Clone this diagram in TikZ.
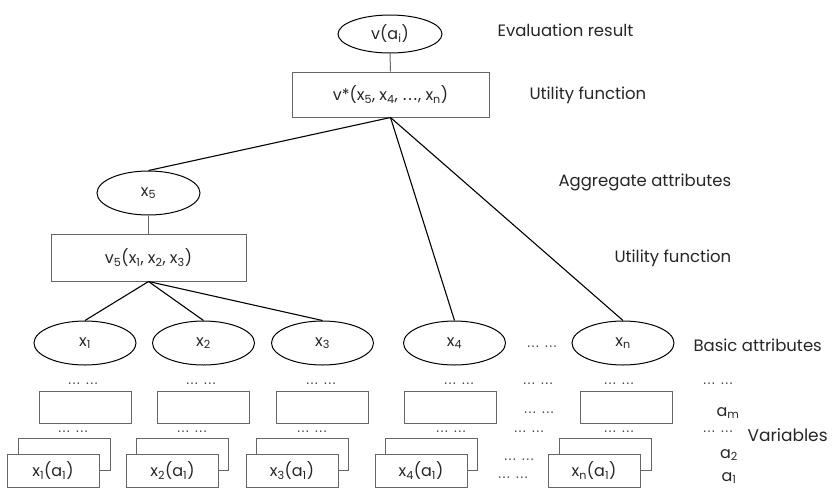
\documentclass[tikz,border=0pt]{standalone}
\usepackage{fontspec}
\setmainfont{Poppins}
\newfontfamily\dotsfamily{DejaVu Sans}
\usetikzlibrary{shapes.geometric}
\newcommand{\lsub}[1]{\textsubscript{#1}}
\newcommand{\onedots}{{\dotsfamily …}}
\newcommand{\twodots}{{\dotsfamily …\hspace{5pt}…}}

\begin{document}
\begin{tikzpicture}[x=1pt,y=-1pt,
  txt/.style={font=\fontsize{16}{18}\selectfont, text=black!85},
  oval/.style={ellipse, draw=black, line width=1pt, minimum width=102pt,
    minimum height=44pt, inner sep=0pt, txt},
  fbox/.style={rectangle, draw=black!60, fill=white, line width=1pt,
    inner sep=0pt, txt},
  card/.style={fbox, minimum width=92pt, minimum height=32pt},
  lbl/.style={anchor=west, font=\fontsize{16.5}{19}\selectfont, text=black!85},
  lblc/.style={font=\fontsize{16}{18}\selectfont, text=black!85},
  dots/.style={font=\fontsize{13}{15}\selectfont, text=black!70},
  link/.style={line width=1.1pt, black},
  stem/.style={line width=1pt, black!60}]
\useasboundingbox (0,0) rectangle (836,488);

% evaluation result and overall utility function
\node[oval, minimum width=104pt, minimum height=38pt] (top) at (390,34) {v(a\lsub{i})};
\node[fbox, minimum width=197pt, minimum height=45pt] (vstar) at (390.5,94.5)
  {v*(x\lsub{5}, x\lsub{4}, \onedots, x\lsub{n})};

% aggregate attribute and its utility function
\node[oval, minimum width=103pt] (x5) at (148.5,193) {x\lsub{5}};
\node[fbox, minimum width=195pt, minimum height=47pt] (v5) at (148.5,257.5)
  {v\lsub{5}(x\lsub{1}, x\lsub{2}, x\lsub{3})};

% basic attributes
\node[oval] (x1) at (85,343) {x\lsub{1}};
\node[oval] (x2) at (203.5,343) {x\lsub{2}};
\node[oval] (x3) at (322.5,343) {x\lsub{3}};
\node[oval] (x4) at (454.5,343) {x\lsub{4}};
\node[oval] (xn) at (623,343) {x\lsub{n}};
\node[dots] (dx) at (542,347) {\twodots};

% connectors
\draw[stem] (top.south) -- (vstar.north);
\draw[stem] (x5.south) -- (v5.north);
\draw[link] (vstar.south) -- (x5.north);
\draw[link] (vstar.south) -- (x4.north);
\draw[link] (vstar.south) -- (xn.north);
\draw[link] (v5.south) -- (x1.north);
\draw[link] (v5.south) -- (x2.north);
\draw[link] (v5.south) -- (x3.north);

% variables: upper row of dots
\foreach \x/\n in {83/1,201/2,321/3,459/4,538/5,619/6,718/7}
  \node[dots] (ua\n) at (\x,384) {\twodots};
% variables a_m
\node[card] (m1) at (85,407.5) {};
\node[card] (m2) at (203.5,407.5) {};
\node[card] (m3) at (322.5,407.5) {};
\node[card] (m4) at (450,407.5) {};
\node[card] (mn) at (626.5,407.5) {};
\node[dots] (dm) at (539,413) {\twodots};
% lower row of dots
\foreach \x/\n in {73/1,192/2,312/3,451/4,529/5,619/6,718/7}
  \node[dots] (ub\n) at (\x,432) {\twodots};
% variables a_2 (behind) and a_1 (front)
\node[card] (b1) at (64,454) {};
\node[card] (b2) at (182.5,454) {};
\node[card] (b3) at (302.5,454) {};
\node[card] (b4) at (431,454) {};
\node[card] (bn) at (605.5,454) {};
\node[card, minimum height=33pt] (f1) at (53,470.5) {x\lsub{1}(a\lsub{1})};
\node[card, minimum height=33pt] (f2) at (172.5,470.5) {x\lsub{2}(a\lsub{1})};
\node[card, minimum height=33pt] (f3) at (292,470.5) {x\lsub{3}(a\lsub{1})};
\node[card, minimum height=33pt] (f4) at (421,470.5) {x\lsub{4}(a\lsub{1})};
\node[card, minimum height=33pt] (fn) at (594,470.5) {x\lsub{n}(a\lsub{1})};
\node[dots] (d2) at (519,460) {\twodots};
\node[dots] (d1) at (513,478) {\twodots};

% level labels
\node[lbl] (l1) at (494,30) {Evaluation result};
\node[lbl] (l2) at (526,95) {Utility function};
\node[lbl] (l3) at (555,182) {Aggregate attributes};
\node[lbl] (l4) at (611,258) {Utility function};
\node[lbl] (l5) at (690,345) {Basic attributes};
\node[lblc] (am) at (728,413) {a\lsub{m}};
\node[lblc] (a2) at (729,455) {a\lsub{2}};
\node[lblc] (a1) at (729,478) {a\lsub{1}};
\node[lbl, font=\fontsize{17}{19}\selectfont] (var) at (744,435) {Variables};
\end{tikzpicture}
\end{document}
